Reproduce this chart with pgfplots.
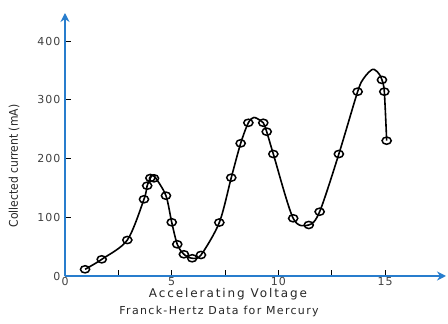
\documentclass[border=0pt]{standalone}
\usepackage{pgfplots}
\pgfplotsset{compat=1.18}
\usepackage{fontspec}
\setmainfont{DejaVu Sans}
\newfontfamily\tickfont[LetterSpace=10]{DejaVu Sans}
\newfontfamily\labfont[LetterSpace=16]{DejaVu Sans}
\newfontfamily\titfont[LetterSpace=12]{DejaVu Sans}
\newfontfamily\condfont{DejaVu Sans Condensed}
\usetikzlibrary{arrows.meta}
\definecolor{axblue}{RGB}{40,125,205}
\begin{document}
\begin{tikzpicture}
\useasboundingbox (0,0) rectangle (448pt,324pt);
\begin{axis}[
  at={(65pt,48pt)}, anchor=south west,
  scale only axis, width=381pt, height=263pt,
  xmin=0, xmax=17.85, ymin=0, ymax=448,
  axis lines=left,
  axis line style={draw=axblue, line width=2pt, -{Stealth[length=9pt,width=9pt]}},
  xtick={0,2.5,5,7.5,10,12.5,15}, xticklabels={0,,5,,10,,15},
  ytick={0,100,200,300,400},
  tick align=inside, major tick length=6pt,
  tick style={black, line width=0.9pt},
  /pgf/number format/assume math mode=true,
  ticklabel style={font=\tickfont\fontsize{11}{13}\selectfont, text=black!75},
  xticklabel style={yshift=2pt},
  yticklabel style={xshift=-1pt},
  clip=false,
]
\addplot[black, line width=1.6pt, smooth, tension=0.5] coordinates {
(0.94,11.4) (1.72,28.4) (2.92,61.3) (3.70,130.7) (3.85,153.8) (4.00,167)
(4.10,171) (4.25,167) (4.73,136.8) (5.00,91.5) (5.26,54) (5.57,37)
(5.96,30.2) (6.37,35.8) (7.23,91.1) (7.79,167.5) (8.23,226) (8.59,261)
(8.85,270) (9.15,265) (9.29,261) (9.45,245.8) (9.76,207.8) (10.69,98.3)
(11.42,86.9) (11.93,109.5) (12.83,207.8) (13.71,314) (14.0,337) (14.41,352)
(14.7,345) (14.85,334) (14.96,314) (15.07,230.5)
};
\addplot[only marks, mark=o, mark size=4.6pt, mark options={black, line width=1.5pt, yscale=0.78}] coordinates {
(0.94,11.4) (1.72,28.4) (2.92,61.3) (3.70,130.7) (3.85,153.8) (4.00,167)
(4.17,166.4) (4.73,136.8) (5.00,91.5) (5.26,54) (5.57,37)
(5.96,30.2) (6.37,35.8) (7.23,91.1) (7.79,167.5) (8.23,226) (8.59,261)
(9.29,261) (9.45,245.8) (9.76,207.8) (10.69,98.3)
(11.42,86.9) (11.93,109.5) (12.83,207.8) (13.71,314)
(14.85,334) (14.96,314) (15.07,230.5)
};
\end{axis}
\node[font=\labfont\fontsize{12}{14}\selectfont, text=black!85] at (228pt,30pt) {Accelerating Voltage};
\node[font=\titfont\fontsize{11}{13}\selectfont, text=black!85] at (219pt,13pt) {Franck-Hertz Data for Mercury};
\node[font=\condfont\fontsize{12}{14}\selectfont, text=black!85, rotate=90] at (14pt,158pt) {Collected current (mA)};
\end{tikzpicture}
\end{document}
